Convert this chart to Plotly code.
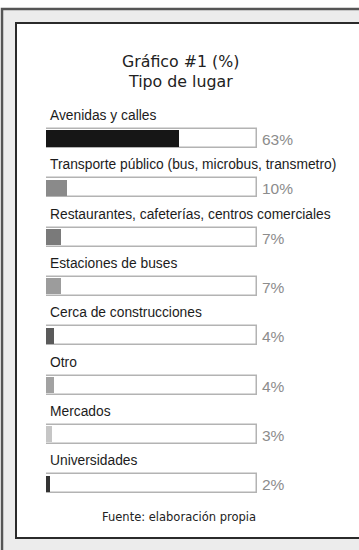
import plotly.graph_objects as go

# ---- data ----
categories = [
    "Avenidas y calles",
    "Transporte público (bus, microbus, transmetro)",
    "Restaurantes, cafeterías, centros comerciales",
    "Estaciones de buses",
    "Cerca de construcciones",
    "Otro",
    "Mercados",
    "Universidades",
]
values = [63, 10, 7, 7, 4, 4, 3, 2]
fill_colors = ["#161616", "#8a8a8a", "#7a7a7a", "#9c9c9c",
               "#5a5a5a", "#a2a2a2", "#c6c6c6", "#333333"]
title_lines = ["Gráfico #1 (%)", "Tipo de lugar"]
source_text = "Fuente: elaboración propia"
scale_max = 100

W, H = 359, 550
n = len(categories)
pos = list(range(n))

# pixel geometry helpers
def px(x):
    return x / W

def py(y):
    return 1 - y / H

first_center, step = 138.5, 49.3
y_top = -first_center / step
y_bot = (H - first_center) / step
bar_w = 19 / step

fig = go.Figure()

# track (background bar)
fig.add_trace(go.Bar(
    x=[scale_max] * n, y=pos, orientation="h", width=bar_w,
    marker=dict(color="white", line=dict(color="#b3b3b3", width=1.5)),
    hoverinfo="skip", showlegend=False,
))
# value bar
fig.add_trace(go.Bar(
    x=values, y=pos, orientation="h", width=bar_w - 0.06,
    marker=dict(color=fill_colors, line=dict(width=0)),
    showlegend=False,
))

annotations = []
for i, (c, v) in enumerate(zip(categories, values)):
    annotations.append(dict(
        x=0, y=i, xref="x", yref="y", text=c, showarrow=False,
        xanchor="left", yanchor="middle", xshift=2, yshift=23,
        font=dict(family="Liberation Sans, Arial", size=13.8, color="#1c1c1c"),
    ))
    annotations.append(dict(
        x=scale_max, y=i, xref="x", yref="y", text=f"{v}%", showarrow=False,
        xanchor="left", yanchor="middle", xshift=3, yshift=-1,
        font=dict(family="Liberation Sans, Arial", size=15.5, color="#8c8c8c"),
    ))

annotations.append(dict(
    x=px(180), y=py(61), xref="paper", yref="paper", text=title_lines[0],
    showarrow=False, xanchor="center", yanchor="middle",
    font=dict(family="DejaVu Sans", size=15.8, color="#222222"),
))
annotations.append(dict(
    x=px(180), y=py(82), xref="paper", yref="paper", text=title_lines[1],
    showarrow=False, xanchor="center", yanchor="middle",
    font=dict(family="DejaVu Sans", size=15.8, color="#222222"),
))
annotations.append(dict(
    x=px(179), y=py(517), xref="paper", yref="paper", text=source_text,
    showarrow=False, xanchor="center", yanchor="middle",
    font=dict(family="DejaVu Sans", size=11.5, color="#222222"),
))

shapes = [
    dict(type="rect", xref="paper", yref="paper",
         x0=px(2), x1=px(420), y0=py(9), y1=py(620),
         fillcolor="#ececec", line=dict(color="#555555", width=2.5), layer="below"),
    dict(type="rect", xref="paper", yref="paper",
         x0=px(16), x1=px(420), y0=py(23), y1=py(538),
         fillcolor="white", line=dict(color="#2a2a2a", width=2), layer="below"),
]

fig.update_layout(
    width=W, height=H,
    margin=dict(l=0, r=0, t=0, b=0),
    paper_bgcolor="white", plot_bgcolor="rgba(0,0,0,0)",
    barmode="overlay", bargap=0,
    xaxis=dict(domain=[px(46), px(257)], range=[0, scale_max],
               visible=False, fixedrange=True),
    yaxis=dict(domain=[0, 1], range=[y_bot, y_top],
               visible=False, fixedrange=True),
    annotations=annotations, shapes=shapes,
)

fig.write_html("out.html")
